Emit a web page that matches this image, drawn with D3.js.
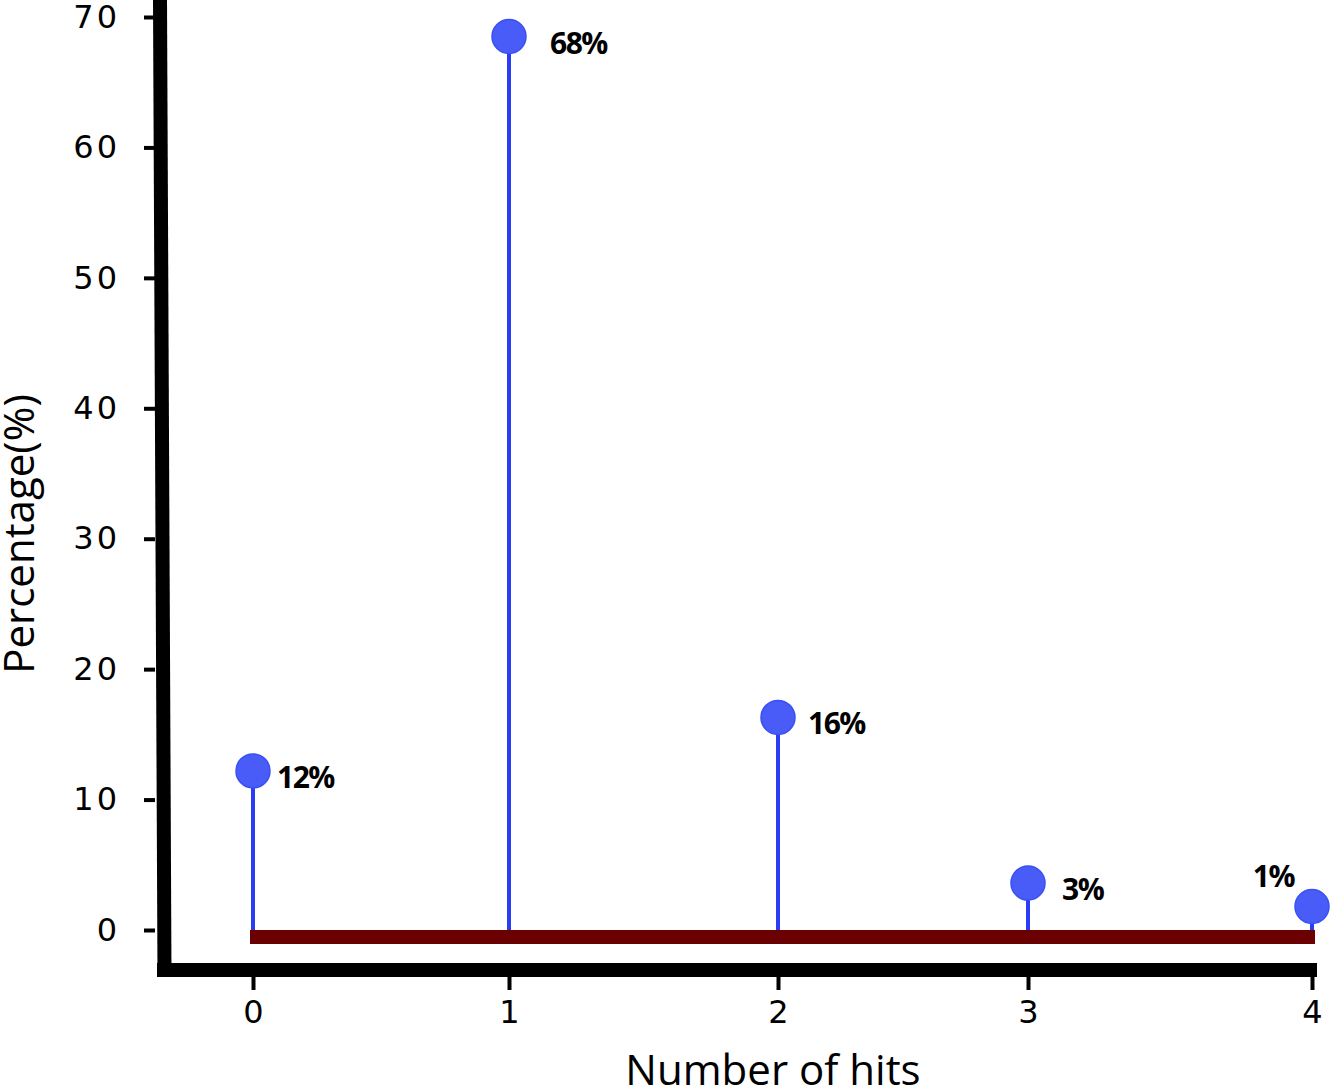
<!DOCTYPE html>
<html>
<head>
<meta charset="utf-8">
<script src="https://cdn.jsdelivr.net/npm/d3@7"></script>
<style>
  body { margin: 0; background: #fff; }
  .tick text { font-family: "DejaVu Sans", sans-serif; }
</style>
</head>
<body>
<script>
// data
var hits = [0, 1, 2, 3, 4]
var percent = [12.2, 68.5, 16.3, 3.6, 1.8]
var labels = ["12%", "68%", "16%", "3%", "1%"]
var yTicks = [0, 10, 20, 30, 40, 50, 60, 70]

var w = 1330
var h = 1087

var svg = d3.select("body").append("svg")
    .attr("width", w)
    .attr("height", h)

// the hit positions are not evenly spaced in the picture
var xScale = d3.scaleLinear().domain(hits).range([253, 509, 778, 1028, 1312])
var yScale = d3.scaleLinear().domain([0, 70]).range([930, 17])

// y axis ticks
var yAxis = d3.axisLeft(yScale).tickValues(yTicks).tickSize(11).tickPadding(24)
var gy = svg.append("g")
    .attr("transform", "translate(155,0)")
    .call(yAxis)
gy.select(".domain").remove()
gy.selectAll(".tick line").attr("stroke", "#000").attr("stroke-width", 4)
gy.selectAll(".tick text")
    .attr("font-size", 32)
    .attr("fill", "#000")
    .attr("letter-spacing", 3)

// x axis ticks
var xAxis = d3.axisBottom(xScale).tickValues(hits).tickFormat(d3.format("d")).tickSize(13).tickPadding(10)
var gx = svg.append("g")
    .attr("transform", "translate(0,977)")
    .call(xAxis)
gx.select(".domain").remove()
gx.selectAll(".tick line").attr("stroke", "#000").attr("stroke-width", 4)
gx.selectAll(".tick text")
    .attr("font-size", 32)
    .attr("fill", "#000")

// thick axis lines
svg.append("line")
    .attr("x1", 160).attr("y1", 0)
    .attr("x2", 164.5).attr("y2", 977)
    .attr("stroke", "#000").attr("stroke-width", 14)
svg.append("line")
    .attr("x1", 157).attr("y1", 970)
    .attr("x2", 1317).attr("y2", 970)
    .attr("stroke", "#000").attr("stroke-width", 14)

// stems
svg.selectAll(".stem").data(percent).enter()
    .append("line")
    .attr("class", "stem")
    .attr("x1", function (d, i) { return xScale(hits[i]) })
    .attr("x2", function (d, i) { return xScale(hits[i]) })
    .attr("y1", yScale(0))
    .attr("y2", function (d) { return yScale(d) })
    .attr("stroke", "#2a3cf5")
    .attr("stroke-width", 4)

// baseline
svg.append("rect")
    .attr("x", xScale(0) - 3)
    .attr("y", yScale(0))
    .attr("width", xScale(4) - xScale(0) + 6)
    .attr("height", 14)
    .attr("fill", "#6a0000")

// markers
svg.selectAll(".dot").data(percent).enter()
    .append("circle")
    .attr("class", "dot")
    .attr("cx", function (d, i) { return xScale(hits[i]) })
    .attr("cy", function (d) { return yScale(d) })
    .attr("r", 17)
    .attr("fill", "#4a5cf7")
    .attr("stroke", "#3a4ff5")
    .attr("stroke-width", 1.5)

// value labels
var lblDx = [24, 41, 30, 34, -18]
svg.selectAll(".lbl").data(percent).enter()
    .append("text")
    .attr("class", "lbl")
    .attr("x", function (d, i) { return xScale(hits[i]) + lblDx[i] })
    .attr("y", function (d, i) {
        return i == 4 ? yScale(d) - 20 : yScale(d) + 17
    })
    .attr("text-anchor", function (d, i) { return i == 4 ? "end" : "start" })
    .attr("font-family", "'Open Sans', sans-serif")
    .attr("font-weight", "bold")
    .attr("font-size", 30)
    .attr("letter-spacing", -1.5)
    .attr("fill", "#000")
    .text(function (d, i) { return labels[i] })

// axis titles
svg.append("text")
    .attr("x", 773)
    .attr("y", 1085)
    .attr("text-anchor", "middle")
    .attr("font-family", "'Open Sans', sans-serif")
    .attr("font-size", 42)
    .attr("fill", "#000")
    .text("Number of hits")

svg.append("text")
    .attr("transform", "translate(34,534) rotate(-90)")
    .attr("text-anchor", "middle")
    .attr("font-family", "'Open Sans', sans-serif")
    .attr("font-size", 42)
    .attr("fill", "#000")
    .text("Percentage(%)")
</script>
</body>
</html>
